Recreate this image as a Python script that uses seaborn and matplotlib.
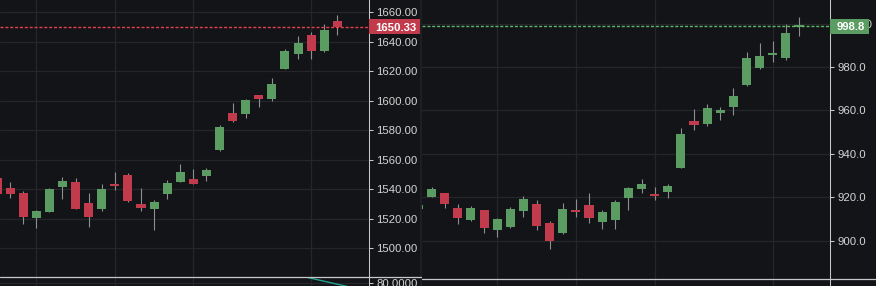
import numpy as np
import pandas as pd
import seaborn as sns
import matplotlib
matplotlib.use("Agg")
import matplotlib.pyplot as plt
from matplotlib.transforms import blended_transform_factory
from matplotlib.patches import Rectangle
from matplotlib.lines import Line2D

# ---------------- data ----------------
left_open = [1547.7, 1540.9, 1537.5, 1520.7, 1524.8, 1541.8, 1544.9, 1530.7, 1526.8, 1543.6,
             1549.7, 1530.0, 1526.8, 1537.0, 1545.2, 1547.0, 1549.2, 1566.8, 1591.7, 1591.3,
             1603.9, 1601.4, 1621.8, 1631.9, 1644.6, 1634.0, 1654.1]
left_high = [1549.0, 1544.9, 1538.8, 1526.0, 1540.9, 1548.3, 1547.7, 1537.5, 1543.6, 1551.7,
             1551.0, 1540.9, 1532.7, 1546.3, 1557.2, 1553.8, 1554.4, 1583.6, 1598.5, 1601.2,
             1604.2, 1615.5, 1635.1, 1643.9, 1646.6, 1652.1, 1658.2]
left_low = [1535.5, 1534.3, 1516.7, 1514.0, 1524.5, 1533.6, 1526.5, 1514.6, 1525.5, 1539.7,
            1531.6, 1525.5, 1512.6, 1533.6, 1545.0, 1543.6, 1545.8, 1566.2, 1585.8, 1588.5,
            1596.0, 1600.1, 1621.6, 1628.5, 1628.5, 1633.3, 1644.8]
left_close = [1537.0, 1537.0, 1521.4, 1525.3, 1540.2, 1545.6, 1526.8, 1521.4, 1540.2, 1542.4,
              1532.3, 1527.5, 1531.4, 1544.3, 1551.7, 1543.8, 1553.1, 1582.2, 1586.5, 1600.5,
              1601.4, 1611.4, 1633.8, 1639.2, 1634.0, 1648.0, 1650.33]
left_last_label = "1650.33"
left_ticks = [1500, 1520, 1540, 1560, 1580, 1600, 1620, 1640, 1660]
left_vgrid = [3, 9, 15, 24]
left_ind_x = [23, 27]
left_ind_v = [87.7, 75.8]
left_ind_tick = [80]

right_open = [914.6, 920.1, 921.9, 915.0, 909.5, 914.1, 904.9, 906.3, 913.6, 916.9,
              908.1, 903.5, 914.1, 916.4, 908.6, 909.5, 919.6, 923.8, 921.5, 922.4,
              933.5, 955.1, 953.7, 958.8, 961.6, 971.7, 979.5, 985.7, 984.1, 998.8]
right_high = [917.0, 924.7, 922.1, 916.9, 915.9, 914.3, 910.4, 915.5, 920.6, 918.7,
              909.0, 917.3, 919.2, 921.9, 914.1, 918.7, 924.7, 928.4, 924.7, 926.1,
              951.9, 960.6, 962.9, 961.6, 970.3, 986.9, 991.1, 992.0, 999.8, 1003.0]
right_low = [914.0, 919.9, 915.0, 907.6, 909.1, 903.5, 901.7, 905.8, 910.9, 904.9,
             896.1, 903.1, 910.9, 908.1, 905.3, 905.3, 914.1, 921.9, 918.7, 919.6,
             933.3, 951.0, 952.8, 955.6, 957.9, 971.5, 979.3, 982.3, 983.2, 994.3]
right_close = [916.4, 923.8, 916.9, 910.4, 915.0, 905.8, 910.0, 914.6, 919.2, 906.7,
               899.8, 914.6, 913.2, 910.4, 913.2, 917.8, 924.2, 926.1, 920.6, 925.2,
               949.1, 953.3, 961.1, 960.2, 966.6, 984.1, 985.1, 986.0, 995.7, 998.8]
right_last_label = "998.8"
right_ticks = [900, 920, 940, 960, 980, 1000]
right_vgrid = [6, 12, 18, 27]

# ---------------- style ----------------
BG = "#131417"
GRID = "#25262a"
AXIS = "#c8c8c8"
TXT = "#d4d4d4"
UP = "#5a9c62"
DOWN = "#c23b4c"
WICK = "#8e8e8e"
TEAL = "#22a08f"
FW, FH = 876, 286

sns.set_theme(style="dark", rc={"axes.facecolor": BG, "figure.facecolor": BG})
plt.rcParams["font.family"] = ["Liberation Sans", "DejaVu Sans"]

fig = plt.figure(figsize=(FW / 100, FH / 100), dpi=100)


def px_axes(x0, y0, w, h):
    return fig.add_axes([x0 / FW, (FH - y0 - h) / FH, w / FW, h / FH])


def style_axes(ax, vgrid, xlim):
    ax.set_facecolor(BG)
    for s in ["top", "left", "bottom"]:
        ax.spines[s].set_visible(False)
    ax.spines["right"].set_color(AXIS)
    ax.spines["right"].set_linewidth(0.75)
    ax.yaxis.tick_right()
    ax.set_xticks(vgrid)
    ax.set_xticklabels([])
    ax.tick_params(axis="x", length=0)
    ax.tick_params(axis="y", length=2.6, width=0.75, color=AXIS, pad=2.5,
                   labelsize=8.2, labelcolor=TXT)
    ax.grid(True, color=GRID, linewidth=0.9)
    ax.set_axisbelow(True)
    ax.set_xlim(*xlim)


def candles(ax, o, h, l, c, min_px):
    df = pd.DataFrame({"o": o, "h": h, "l": l, "c": c})
    df["x"] = np.arange(len(df))
    pos = ax.get_position()
    y0, y1 = ax.get_ylim()
    upp = (y1 - y0) / (pos.height * FH)
    minh = min_px * upp
    body = (df["c"] - df["o"]).abs()
    hgt = np.maximum(body, minh)
    mid = (df["c"] + df["o"]) / 2
    cols = np.where(df["c"] >= df["o"], UP, DOWN)
    ax.vlines(df["x"], df["l"], df["h"], color=WICK, linewidth=0.8, zorder=2)
    ax.bar(df["x"], hgt, bottom=mid - hgt / 2, width=0.69, color=cols,
           linewidth=0, zorder=3)


def price_tag(ax, value, label, color, line_color, width_px):
    pos = ax.get_position()
    w_px = pos.width * FW
    y0, y1 = ax.get_ylim()
    upp = (y1 - y0) / (pos.height * FH)
    h = 15 * upp
    tr = blended_transform_factory(ax.transAxes, ax.transData)
    ax.axhline(value, color=line_color, linewidth=1.0, linestyle=(0, (2.2, 1.3)),
               zorder=4)
    ax.add_patch(Rectangle((1.0, value - h / 2), width_px / w_px, h, transform=tr,
                           facecolor=color, edgecolor="none", clip_on=False, zorder=10))
    ax.text(1.0 + (width_px / 2 + 1) / w_px, value, label, transform=tr, ha="center",
            va="center_baseline", color="white", fontsize=8.2, fontweight="bold",
            clip_on=False, zorder=11)


# ---------- left chart ----------
axL = px_axes(0, 0, 369, 277)
axL.set_ylim(1480.5, 1668.3)
style_axes(axL, left_vgrid, (0.229, 28.42))
axL.set_yticks(left_ticks)
axL.set_yticklabels([f"{v:.2f}" for v in left_ticks])
candles(axL, left_open, left_high, left_low, left_close, 1.6)
price_tag(axL, left_close[-1], left_last_label, DOWN, "#e0404f", 52)

axLb = px_axes(0, 277, 369, 9)
axLb.set_ylim(77, 86)
style_axes(axLb, left_vgrid, (0.229, 28.42))
axLb.set_yticks(left_ind_tick)
axLb.set_yticklabels([f"{v:.4f}" for v in left_ind_tick])
axLb.plot(left_ind_x, left_ind_v, color=TEAL, linewidth=1.0, zorder=3)

# ---------- right chart ----------
axR = px_axes(422, 0, 408, 279.3)
axR.set_ylim(882.2, 1010.9)
style_axes(axR, right_vgrid, (0.274, 31.36))
axR.set_yticks(right_ticks)
axR.set_yticklabels([f"{v:.1f}" for v in right_ticks])
candles(axR, right_open, right_high, right_low, right_close, 2.0)
price_tag(axR, right_close[-1], right_last_label, UP, "#5cb866", 39)

axRb = px_axes(422, 279.3, 408, 6.7)
axRb.set_ylim(0, 1)
style_axes(axRb, right_vgrid, (0.274, 31.36))
axRb.set_yticks([])

# ---------- separators ----------
fig.add_artist(Line2D([0, 421 / FW], [9 / FH, 9 / FH], transform=fig.transFigure,
                      color=AXIS, linewidth=0.9))
fig.add_artist(Line2D([422 / FW, 1], [6.7 / FH, 6.7 / FH], transform=fig.transFigure,
                      color=AXIS, linewidth=0.9))
fig.add_artist(Rectangle((420 / FW, 0), 2 / FW, 1, transform=fig.transFigure,
                         facecolor="#1e1f23", edgecolor="none"))

fig.savefig("out.png", dpi=100, facecolor=BG)
